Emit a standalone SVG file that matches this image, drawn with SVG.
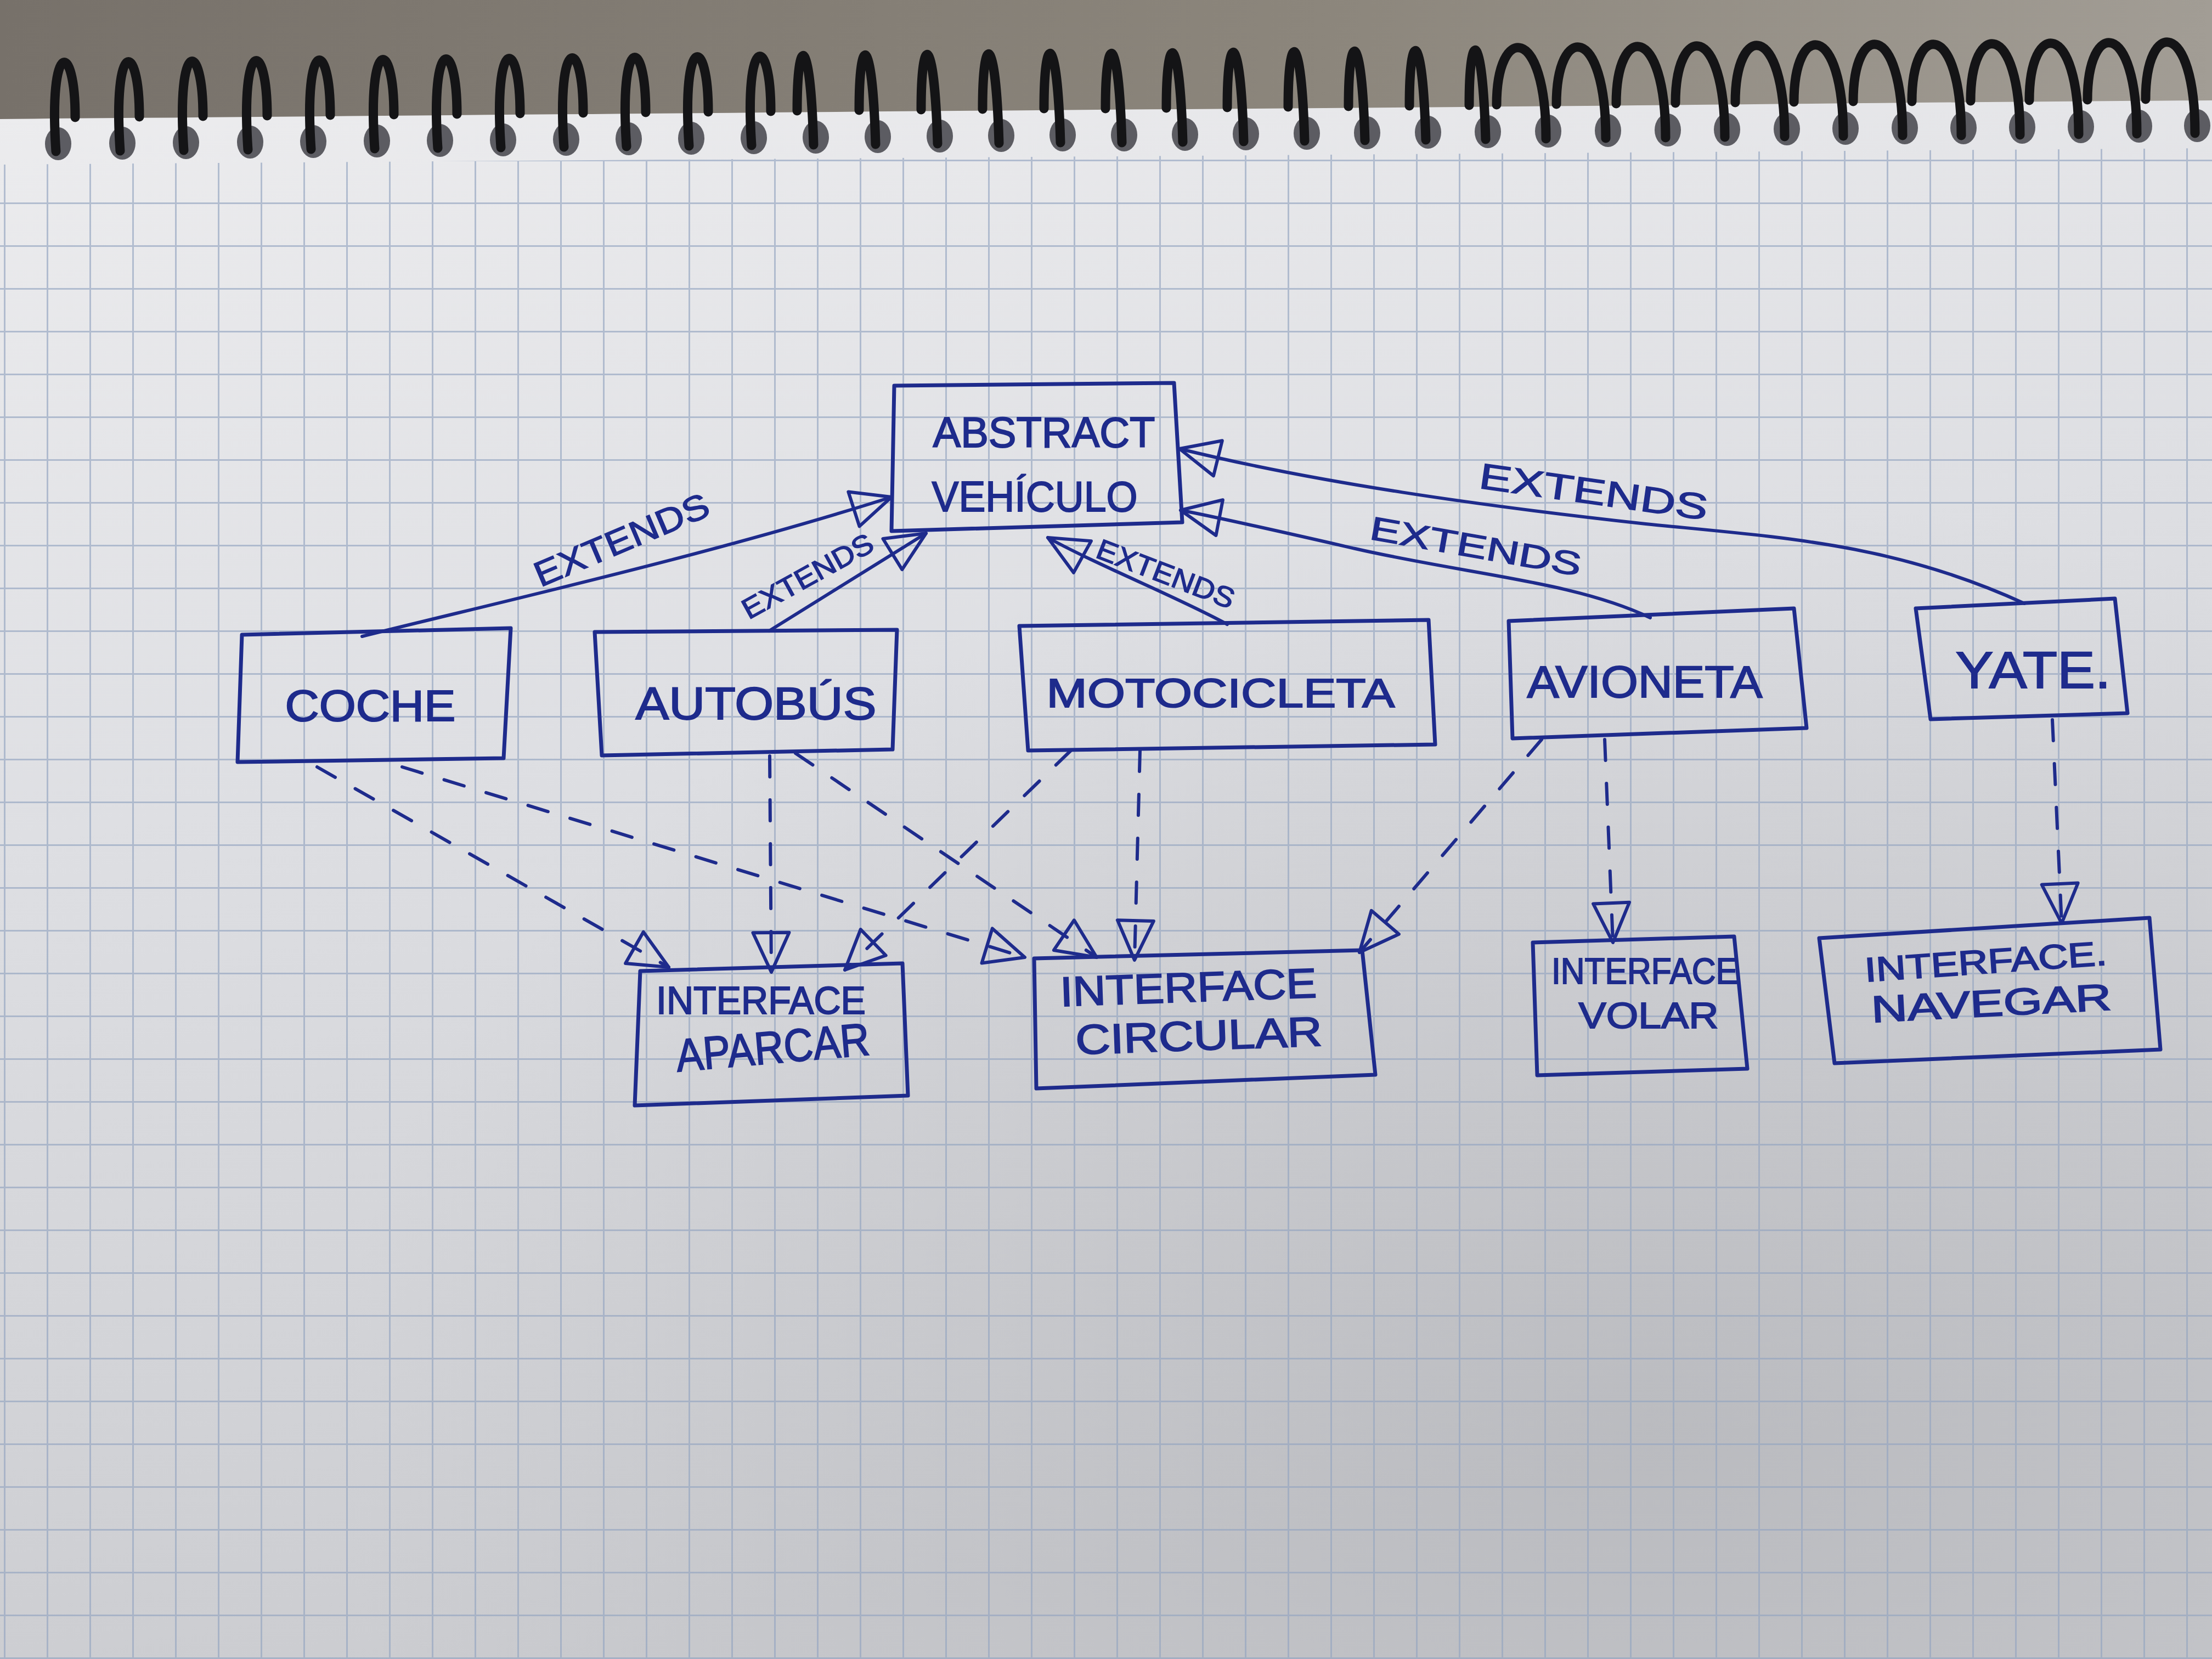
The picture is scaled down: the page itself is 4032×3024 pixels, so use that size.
<svg xmlns="http://www.w3.org/2000/svg" xmlns:xlink="http://www.w3.org/1999/xlink" width="4032" height="3024" viewBox="0 0 4032 3024">
<style>
.box{fill:none;stroke:#1e2b8c;stroke-width:7;stroke-linejoin:round;stroke-linecap:round}
.lbl{font-family:"Liberation Sans","DejaVu Sans",sans-serif;fill:#1e2b8c;stroke:#1e2b8c;stroke-width:2;text-anchor:middle}
.ext{font-family:"Liberation Sans","DejaVu Sans",sans-serif;fill:#1e2b8c;stroke:#1e2b8c;stroke-width:1.5;text-anchor:middle;dominant-baseline:central}
.solid{fill:none;stroke:#1e2b8c;stroke-width:6;stroke-linecap:round;marker-end:url(#tri)}
.dash{fill:none;stroke:#1e2b8c;stroke-width:6;stroke-linecap:round;stroke-dasharray:38 42;marker-end:url(#tri)}
.ring{fill:none;stroke:#141416;stroke-width:17;stroke-linecap:round}
.hole{fill:#5c5c62}
</style>
<defs>
<linearGradient id="desk" x1="0" y1="0" x2="1" y2="0">
<stop offset="0" stop-color="#77716a"/><stop offset="0.6" stop-color="#8c867c"/><stop offset="1" stop-color="#a29d95"/>
</linearGradient>
<linearGradient id="paper" x1="0" y1="0" x2="0.25" y2="1">
<stop offset="0" stop-color="#ececee"/><stop offset="0.45" stop-color="#dedfe3"/><stop offset="1" stop-color="#cbccd0"/>
</linearGradient>
<radialGradient id="shade" cx="0.75" cy="0.85" r="0.6">
<stop offset="0" stop-color="#9a9ba0" stop-opacity="0.35"/><stop offset="1" stop-color="#9a9ba0" stop-opacity="0"/>
</radialGradient>
<pattern id="grid" patternUnits="userSpaceOnUse" x="7" y="57" width="78" height="78">
<path d="M0,1.5 H78 M1.5,0 V78" stroke="#93a4c0" stroke-width="3" fill="none" opacity="0.65"/>
</pattern>
<marker id="tri" markerUnits="userSpaceOnUse" viewBox="0 0 80 74" refX="76" refY="37" markerWidth="80" markerHeight="74" orient="auto">
<path d="M4,4 L76,37 L4,70 Z" fill="none" stroke="#1e2b8c" stroke-width="6" stroke-linejoin="round" stroke-dasharray="none"/>
</marker>
<g id="ringA"><ellipse class="hole" cx="4" cy="-4" rx="24" ry="30"/><path class="ring" d="M0,10 C-14,-195 35,-195 35,-52"/></g>
<g id="ringB"><ellipse class="hole" cx="4" cy="-4" rx="24" ry="30"/><path class="ring" d="M0,10 C-6,-195 -30,-195 -30,-52"/></g>
<g id="ringC"><ellipse class="hole" cx="4" cy="-4" rx="24" ry="30"/><path class="ring" d="M0,10 C0,-200 -90,-200 -90,-52"/></g>
</defs>

<g id="background">
<rect x="0" y="0" width="4032" height="320" fill="url(#desk)"/>
<path d="M0,217 C600,212 1400,205 2000,200 C2800,195 3500,186 4032,183 L4032,3024 L0,3024 Z" fill="url(#paper)"/>
<path d="M0,217 C600,212 1400,205 2000,200 C2800,195 3500,186 4032,183 L4032,3024 L0,3024 Z" fill="url(#shade)"/>
<path d="M0,300 L4032,270 L4032,3024 L0,3024 Z" fill="url(#grid)"/>
</g>

<g id="spiral">
<use xlink:href="#ringA" x="102" y="266"/>
<use xlink:href="#ringA" x="219" y="265"/>
<use xlink:href="#ringA" x="335" y="264"/>
<use xlink:href="#ringA" x="452" y="263"/>
<use xlink:href="#ringA" x="567" y="262"/>
<use xlink:href="#ringA" x="683" y="261"/>
<use xlink:href="#ringA" x="798" y="260"/>
<use xlink:href="#ringA" x="913" y="259"/>
<use xlink:href="#ringA" x="1028" y="258"/>
<use xlink:href="#ringA" x="1142" y="257"/>
<use xlink:href="#ringA" x="1256" y="256"/>
<use xlink:href="#ringA" x="1370" y="255"/>
<use xlink:href="#ringB" x="1483" y="254"/>
<use xlink:href="#ringB" x="1596" y="253"/>
<use xlink:href="#ringB" x="1709" y="252"/>
<use xlink:href="#ringB" x="1821" y="251"/>
<use xlink:href="#ringB" x="1933" y="250"/>
<use xlink:href="#ringB" x="2045" y="250"/>
<use xlink:href="#ringB" x="2156" y="249"/>
<use xlink:href="#ringB" x="2267" y="248"/>
<use xlink:href="#ringB" x="2378" y="247"/>
<use xlink:href="#ringB" x="2488" y="246"/>
<use xlink:href="#ringB" x="2599" y="245"/>
<use xlink:href="#ringB" x="2708" y="244"/>
<use xlink:href="#ringC" x="2818" y="243"/>
<use xlink:href="#ringC" x="2927" y="242"/>
<use xlink:href="#ringC" x="3036" y="241"/>
<use xlink:href="#ringC" x="3144" y="240"/>
<use xlink:href="#ringC" x="3253" y="239"/>
<use xlink:href="#ringC" x="3360" y="238"/>
<use xlink:href="#ringC" x="3468" y="237"/>
<use xlink:href="#ringC" x="3575" y="237"/>
<use xlink:href="#ringC" x="3682" y="236"/>
<use xlink:href="#ringC" x="3789" y="235"/>
<use xlink:href="#ringC" x="3895" y="234"/>
<use xlink:href="#ringC" x="4001" y="233"/>
</g>

<g id="connectors">
<path class="solid" d="M660,1160 C900,1100 1300,1010 1625,906"/>
<path class="solid" d="M1402,1150 L1688,972"/>
<path class="solid" d="M2237,1138 C2150,1090 2000,1030 1910,980"/>
<path class="solid" d="M3008,1126 C2870,1060 2680,1048 2470,1000 C2330,968 2230,945 2152,930"/>
<path class="solid" d="M3690,1100 C3450,990 3250,980 3000,955 C2700,922 2400,880 2150,818"/>
<text class="ext" font-size="64" textLength="340" lengthAdjust="spacingAndGlyphs" transform="translate(1133,984) rotate(-23)">EXTENDS</text>
<text class="ext" font-size="52" textLength="265" lengthAdjust="spacingAndGlyphs" transform="translate(1472,1050) rotate(-29)">EXTENDS</text>
<text class="ext" font-size="52" textLength="265" lengthAdjust="spacingAndGlyphs" transform="translate(2125,1046) rotate(21)">EXTENDS</text>
<text class="ext" font-size="60" textLength="390" lengthAdjust="spacingAndGlyphs" transform="translate(2690,996) rotate(10)">EXTENDS</text>
<text class="ext" font-size="66" textLength="420" lengthAdjust="spacingAndGlyphs" transform="translate(2905,896) rotate(8)">EXTENDS</text>
<path class="dash" d="M578,1398 L1219,1763"/>
<path class="dash" d="M733,1398 L1868,1745"/>
<path class="dash" d="M1403,1378 L1406,1772"/>
<path class="dash" d="M1450,1373 L1999,1745"/>
<path class="dash" d="M1952,1368 L1540,1768"/>
<path class="dash" d="M2078,1368 L2068,1750"/>
<path class="dash" d="M2810,1348 L2478,1736"/>
<path class="dash" d="M2925,1348 L2940,1718"/>
<path class="dash" d="M3741,1312 L3758,1683"/>
</g>

<g id="vehiculo">
<path class="box" d="M1630,703 L2140,698 L2155,952 L1625,968 Z"/>
<text class="lbl" x="1903" y="815" font-size="78" textLength="405" lengthAdjust="spacingAndGlyphs">ABSTRACT</text>
<text class="lbl" x="1886" y="932" font-size="78" textLength="375" lengthAdjust="spacingAndGlyphs">VEHÍCULO</text>
</g>
<g id="coche">
<path class="box" d="M441,1157 L931,1145 L918,1382 L433,1389 Z"/>
<text class="lbl" x="675" y="1314" font-size="80" textLength="311" lengthAdjust="spacingAndGlyphs">COCHE</text>
</g>
<g id="autobus">
<path class="box" d="M1084,1152 L1635,1148 L1627,1366 L1097,1377 Z"/>
<text class="lbl" x="1378" y="1311" font-size="84" textLength="439" lengthAdjust="spacingAndGlyphs">AUTOBÚS</text>
</g>
<g id="motocicleta">
<path class="box" d="M1858,1141 L2604,1130 L2616,1357 L1874,1368 Z"/>
<text class="lbl" x="2225" y="1289" font-size="75" textLength="635" lengthAdjust="spacingAndGlyphs">MOTOCICLETA</text>
</g>
<g id="avioneta">
<path class="box" d="M2750,1132 L3270,1109 L3293,1327 L2757,1346 Z"/>
<text class="lbl" x="2998" y="1271" font-size="82" textLength="429" lengthAdjust="spacingAndGlyphs">AVIONETA</text>
</g>
<g id="yate">
<path class="box" d="M3492,1109 L3855,1091 L3878,1300 L3519,1311 Z"/>
<text class="lbl" x="3706" y="1254" font-size="95" textLength="283" lengthAdjust="spacingAndGlyphs">YATE.</text>
</g>
<g id="aparcar">
<path class="box" d="M1167,1770 L1645,1756 L1655,1997 L1157,2015 Z"/>
<text class="lbl" x="1387" y="1848" font-size="70" textLength="382" lengthAdjust="spacingAndGlyphs">INTERFACE</text>
<text class="lbl" x="1411" y="1938" font-size="84" textLength="354" lengthAdjust="spacingAndGlyphs" transform="rotate(-5 1411 1938)">APARCAR</text>
</g>
<g id="circular">
<path class="box" d="M1885,1747 L2483,1732 L2507,1959 L1889,1984 Z"/>
<text class="lbl" x="2167" y="1826" font-size="76" textLength="468" lengthAdjust="spacingAndGlyphs" transform="rotate(-2 2167 1826)">INTERFACE</text>
<text class="lbl" x="2186" y="1914" font-size="76" textLength="450" lengthAdjust="spacingAndGlyphs" transform="rotate(-2 2186 1914)">CIRCULAR</text>
</g>
<g id="volar">
<path class="box" d="M2794,1718 L3161,1707 L3185,1948 L2802,1960 Z"/>
<text class="lbl" x="2998" y="1793" font-size="66" textLength="340" lengthAdjust="spacingAndGlyphs">INTERFACE</text>
<text class="lbl" x="3005" y="1874" font-size="66" textLength="255" lengthAdjust="spacingAndGlyphs">VOLAR</text>
</g>
<g id="navegar">
<path class="box" d="M3316,1710 L3918,1673 L3938,1913 L3344,1938 Z"/>
<text class="lbl" x="3621" y="1774" font-size="62" textLength="442" lengthAdjust="spacingAndGlyphs" transform="rotate(-4 3621 1774)">INTERFACE.</text>
<text class="lbl" x="3631" y="1852" font-size="68" textLength="438" lengthAdjust="spacingAndGlyphs" transform="rotate(-3 3631 1852)">NAVEGAR</text>
</g>
</svg>
